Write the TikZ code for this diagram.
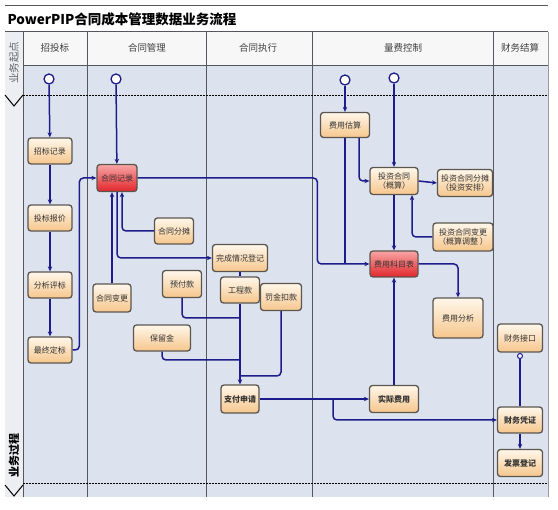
\documentclass[tikz,border=0pt]{standalone}
\usepackage{fontspec}
\newfontfamily\cjk{Noto Sans CJK SC}
\usetikzlibrary{arrows.meta, positioning}
\definecolor{lanebg}{HTML}{DDE3EE}
\definecolor{stripbg}{HTML}{ECEEF2}
\definecolor{headbg}{HTML}{F7F7F8}
\definecolor{flowblue}{HTML}{1C1C8A}
\definecolor{boxedge}{HTML}{5B5550}
\definecolor{boxtop}{HTML}{FFF7EA}
\definecolor{boxbot}{HTML}{F6C68C}
\definecolor{redtop}{HTML}{F7A5A5}
\definecolor{redbot}{HTML}{E2262B}
\definecolor{lanegray}{HTML}{55575E}
\tikzset{
	box/.style={draw=boxedge, line width=1.3pt, top color=boxtop, bottom color=boxbot,
		rounded corners=3pt, align=center, font=\cjk\fontsize{8}{9.5}\selectfont,
		text=black!80, inner sep=1pt, minimum height=26pt},
	redbox/.style={box, top color=redtop, bottom color=redbot},
	flow/.style={-{Stealth[length=5pt, width=4.5pt]}, line width=1.5pt, draw=flowblue, rounded corners=4pt},
	link/.style={line width=1.5pt, draw=flowblue, rounded corners=4pt},
	start/.style={circle, draw=flowblue, line width=1.3pt, fill=white, inner sep=0pt, minimum size=10pt},
	lanehead/.style={font=\cjk\fontsize{9.5}{11}\selectfont, text=black!75}
}
\begin{document}
\begin{tikzpicture}[x=1pt, y=-1pt]
	\useasboundingbox (0,0) rectangle (558,510);
	% lanes
	\fill[white] (0,0) rectangle (558,510);
	\fill[headbg] (23,32) rectangle (548,65);
	\fill[lanebg] (23,65) rectangle (548,497);
	\fill[stripbg] (5,32) rectangle (23,497);
	\draw[lanegray, line width=1pt] (5,6) -- (548,6);
	\draw[lanegray, line width=1pt] (5,32) -- (548,32);
	\draw[lanegray, thin] (23,65) -- (548,65);
	\foreach \x in {23,87,206,312,493}
		\draw[lanegray, line width=0.8pt] (\x,32) -- (\x,497);
	\draw[lanegray!60, thin] (548,32) -- (548,497);
	\draw[line width=1pt, dash pattern=on 2pt off 1pt] (23,96) -- (548,96);
	\draw[line width=1pt, dash pattern=on 2pt off 1pt] (23,484) -- (548,484);
	\draw[line width=1pt] (5,95) -- (14,106) -- (23,95);
	\draw[line width=1pt] (5,485) -- (14,496) -- (23,485);
	\node[anchor=west, font=\bfseries\cjk\fontsize{13.5}{15}\selectfont] (title) at (4,19) {PowerPIP合同成本管理数据业务流程};
	\node[rotate=90, font=\cjk\fontsize{10.5}{12}\selectfont, text=black!60] (origin) at (14,63) {业务起点};
	\node[rotate=90, font=\bfseries\cjk\fontsize{11}{12}\selectfont] (process) at (14,456) {业务过程};
	\node[lanehead] (h1) at (55,48) {招投标};
	\node[lanehead] (h2) at (147,48) {合同管理};
	\node[lanehead] (h3) at (258,48) {合同执行};
	\node[lanehead] (h4) at (403,48) {量费控制};
	\node[lanehead] (h5) at (520,48) {财务结算};

	% start points
	\node[start] (s1) at (49,79) {};
	\node[start] (s2) at (116,79) {};
	\node[start] (s3) at (345,80) {};
	\node[start] (s4) at (394,78) {};

	% tendering
	\node[box, minimum width=44pt] (zbjl) at (50,151) {招标记录};
	\node[box, minimum width=44pt] (tbbj) at (50,218) {投标报价};
	\node[box, minimum width=44pt] (fxpb) at (50,285) {分析评标};
	\node[box, minimum width=44pt] (zzdb) at (50,350) {最终定标};
	% contracts
	\node[redbox, minimum width=40pt, minimum height=27pt] (htjl) at (117,178) {合同记录};
	\node[box, minimum width=39pt] (htft) at (174,231) {合同分摊};
	\node[box, minimum width=38pt, minimum height=28pt] (htbg) at (112,298) {合同变更};
	\node[box, minimum width=39pt, minimum height=27pt] (yfk) at (182,284) {预付款};
	\node[box, minimum width=57pt] (blj) at (162,338) {保留金};
	% execution
	\node[box, minimum width=55pt, minimum height=27pt] (wcqk) at (240,258) {完成情况登记};
	\node[box, minimum width=39pt] (gck) at (240,290) {工程款};
	\node[box, minimum width=41pt, minimum height=27pt] (fjkk) at (281,297) {罚金扣款};
	\node[box, minimum width=38pt, minimum height=28pt, font=\bfseries\cjk\fontsize{8}{9.5}\selectfont] (zfsq) at (240,399) {支付申请};
	% cost control
	\node[box, minimum width=49pt, minimum height=25pt] (fygs) at (345,125) {费用估算};
	\node[box, minimum width=48pt, minimum height=27pt] (tzht) at (394,181) {投资合同\\（概算）};
	\node[box, minimum width=55pt, minimum height=27pt] (tzft) at (465,183) {投资合同分摊\\（投资安排）};
	\node[box, minimum width=60pt, minimum height=28pt] (tzbg) at (463,237) {投资合同变更\\（概算调整 ）};
	\node[redbox, minimum width=48pt, minimum height=26pt] (fyks) at (394,264) {费用科目表};
	\node[box, minimum width=50pt, minimum height=40pt] (fyfx) at (458,318) {费用分析};
	\node[box, minimum width=49pt, minimum height=27pt, font=\bfseries\cjk\fontsize{8}{9.5}\selectfont] (sjfy) at (394,399) {实际费用};
	% finance
	\node[box, minimum width=45pt, minimum height=28pt] (cwjk) at (520,338) {财务接口};
	\node[circle, draw=flowblue, line width=1pt, fill=white, inner sep=0pt, minimum size=5pt] (jk) at (520,356) {};
	\node[box, minimum width=45pt, font=\bfseries\cjk\fontsize{8}{9.5}\selectfont] (cwpz) at (520,420) {财务凭证};
	\node[box, minimum width=45pt, minimum height=27pt, font=\bfseries\cjk\fontsize{8}{9.5}\selectfont] (fpdj) at (520,463) {发票登记};

	\coordinate (j1) at (240,318);
	\coordinate (j2) at (240,360);
	\coordinate (j3) at (240,376);
	\coordinate (fork) at (333,399);

	% connectors
	\draw[flow] (s1) -- (zbjl);
	\draw[flow] (zbjl) -- (tbbj);
	\draw[flow] (tbbj) -- (fxpb);
	\draw[flow] (fxpb) -- (zzdb);
	\draw[flow] (zzdb.east) -| ([xshift=-17pt]htjl.west) -- (htjl.west);
	\draw[flow] (s2) -- (htjl);
	\draw[flow] (htft.west) -| ([xshift=5pt]htjl.south);
	\draw[flow] (htbg.north) -- (htbg.north |- htjl.south);
	\draw[flow] (htjl.south) |- (wcqk.west);
	\draw[link] (wcqk) -- (gck);
	\draw[link] (yfk.south) |- (j1);
	\draw[link] (blj.south) |- (j2);
	\draw[link] (fjkk.south) |- (j3);
	\draw[flow] (gck.south) -- (zfsq.north);
	\draw[link] (zfsq.east) -- (fork);
	\draw[flow] (fork) -- (sjfy.west);
	\draw[flow] (fork) |- (cwpz.west);
	\draw[flow] (sjfy) -- (fyks);
	\draw[flow] (htjl.east) -| ([xshift=-52pt]fyks.west) -- (fyks.west);
	\draw[link] (fygs.south) -- (fygs.south |- fyks.west);
	\draw[flow] ([xshift=14pt]fygs.south) |- (tzht.west);
	\draw[flow] (s3) -- (fygs);
	\draw[flow] (s4) -- (tzht);
	\draw[flow] (tzht) -- (fyks);
	\draw[flow] (tzht.east) -- (tzft.west);
	\draw[flow] (tzbg.west) -| ([xshift=18pt]tzht.south);
	\draw[flow] (fyks.east) -| (fyfx.north);
	\draw[link] (cwjk.south) -- (jk);
	\draw[link] (jk) -- (cwpz.north);
	\draw[flow] (cwpz) -- (fpdj);
\end{tikzpicture}
\end{document}
